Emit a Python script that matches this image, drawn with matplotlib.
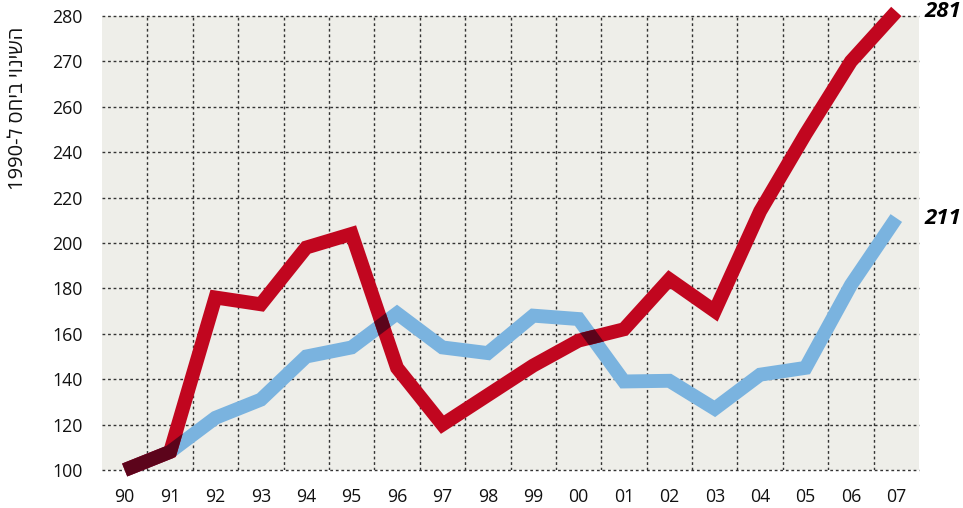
import numpy as np
import matplotlib
matplotlib.use("Agg")
import matplotlib.pyplot as plt
from matplotlib.colors import to_rgb

# ---- data ----
years = ["90", "91", "92", "93", "94", "95", "96", "97", "98",
         "99", "00", "01", "02", "03", "04", "05", "06", "07"]
red_values = [100, 108, 176, 173, 198, 204, 145, 120, 133,
              146, 157, 162, 184, 170, 214, 248, 270, 281]
blue_values = [100, 108, 123, 131, 150, 154, 169, 154, 151.5,
               168, 166.5, 139, 139.3, 127, 142, 145, 181.5, 211]
ytick_values = [100, 120, 140, 160, 180, 200, 220, 240, 260, 270, 280]
end_labels = ["281", "211"]
ylabel_text = "1990-ל סחיב יונישה"  # visual (LTR) order of "השינוי ביחס ל-1990"

RED = "#C1061F"
BLUE = "#7AB3DF"
BG = "#EEEEE9"

plt.rcParams['font.family'] = ['Open Sans', 'DejaVu Sans']

# piecewise-linear scale matching the evenly spaced tick labels
_pos = np.arange(len(ytick_values), dtype=float)
_vals = np.array(ytick_values, dtype=float)

def fwd(v):
    v = np.asarray(v, dtype=float)
    out = np.interp(v, _vals, _pos)
    out = np.where(v > _vals[-1], _pos[-1] + (v - _vals[-1]) / 10.0, out)
    out = np.where(v < _vals[0], (v - _vals[0]) / 20.0, out)
    return out

def inv(p):
    p = np.asarray(p, dtype=float)
    out = np.interp(p, _pos, _vals)
    out = np.where(p > _pos[-1], _vals[-1] + (p - _pos[-1]) * 10.0, out)
    out = np.where(p < _pos[0], _vals[0] + p * 20.0, out)
    return out

W, H = 963, 508
fig = plt.figure(figsize=(W / 100, H / 100), dpi=100)
ax = fig.add_axes([102 / W, 1 - 470 / H, (919 - 102) / W, (470 - 16) / H])
ax.set_facecolor(BG)
ax.set_yscale('function', functions=(fwd, inv))

x = np.arange(len(years))
ax.set_xlim(-0.5, len(years) - 0.5)
ax.set_ylim(ytick_values[0], ytick_values[-1])

# grid
for v in ytick_values:
    ax.axhline(v, color="#333333", lw=1.0, ls=(0, (2, 2)), zorder=1, clip_on=False)
for xv in x[:-1] + 0.5:
    ax.axvline(xv, color="#333333", lw=1.0, ls=(0, (2, 2)), zorder=1)

lw = 10
blue_line, = ax.plot(x, blue_values, color=BLUE, lw=lw, solid_capstyle='butt',
                     solid_joinstyle='miter', zorder=3, clip_on=False)
red_line, = ax.plot(x, red_values, color=RED, lw=lw, solid_capstyle='butt',
                    solid_joinstyle='miter', zorder=4, clip_on=False)

for s in ax.spines.values():
    s.set_visible(False)
ax.set_xticks(x)
ax.set_xticklabels(years)
ax.set_yticks(ytick_values)
ax.set_yticklabels([str(v) for v in ytick_values])
ax.tick_params(axis='both', length=0, labelsize=12.8, colors="#111111")
ax.tick_params(axis='y', pad=14)
ax.tick_params(axis='x', pad=13)

ax.text(len(years) - 1 + 0.62, red_values[-1], end_labels[0], fontsize=16,
        fontweight='bold', fontstyle='italic', ha='left', va='center', clip_on=False)
ax.text(len(years) - 1 + 0.62, blue_values[-1], end_labels[1], fontsize=16,
        fontweight='bold', fontstyle='italic', ha='left', va='center', clip_on=False)

fig.text(18 / W, 1 - 108 / H, ylabel_text, rotation=90, ha='center', va='center',
         fontsize=14.5, color="#111111")

# ---- multiply-style darkening where the two lines overlap ----
def grab():
    fig.canvas.draw()
    return np.asarray(fig.canvas.buffer_rgba())[..., :3].astype(float) / 255.0

red_line.set_visible(False)
blue_line.set_visible(False)
base = grab()
blue_line.set_visible(True)
img_b = grab()
blue_line.set_visible(False)
red_line.set_visible(True)
img_r = grab()
blue_line.set_visible(True)

def coverage(img, col):
    c = np.array(to_rgb(col))
    d = c[None, None, :] - base
    num = ((img - base) * d).sum(-1)
    den = (d * d).sum(-1)
    cov = np.where(den > 1e-4, num / np.maximum(den, 1e-4), 0.0)
    return np.clip(cov, 0, 1)

cov_b = coverage(img_b, BLUE)
cov_r = coverage(img_r, RED)
alpha = np.minimum(cov_b, cov_r)
dark = np.array(to_rgb(RED)) * np.array(to_rgb(BLUE))
overlay = np.zeros((base.shape[0], base.shape[1], 4))
overlay[..., :3] = dark
overlay[..., 3] = alpha
fig.figimage(overlay, xo=0, yo=0, origin='upper', zorder=5)

fig.savefig("out.png", dpi=100)
